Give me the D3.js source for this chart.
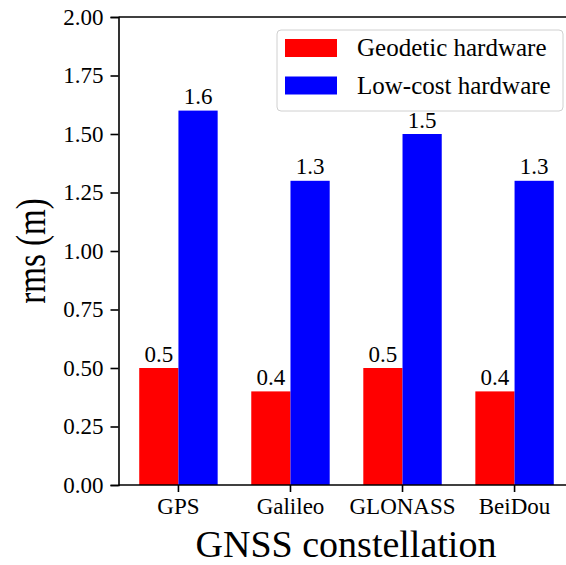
<!DOCTYPE html>
<html>
<head>
<meta charset="utf-8">
<script src="https://cdn.jsdelivr.net/npm/d3@7"></script>
<style>
  body { margin: 0; background: #fff; }
  text { font-family: "Liberation Serif", "Times New Roman", serif; fill: #000; }
</style>
</head>
<body>
<div class="graph"></div>
<script>
// Data
var constellations = ["GPS", "Galileo", "GLONASS", "BeiDou"];
var geodetic = [0.5, 0.4, 0.5, 0.4];
var lowCost = [1.6, 1.3, 1.5, 1.3];
var seriesNames = ["Geodetic hardware", "Low-cost hardware"];
var seriesColors = ["#ff0000", "#0000ff"];
var yTicks = [0, 0.25, 0.5, 0.75, 1.0, 1.25, 1.5, 1.75, 2.0];

// Configuration
var W = 566, H = 565;
var plotLeft = 118.5, plotTop = 17, plotBottom = 485, plotRight = 574.5;
var barFrac = 0.35;

var svg = d3.select(".graph").append("svg")
    .attr("width", W)
    .attr("height", H);

// Scales
var x = d3.scaleBand()
    .domain(constellations)
    .range([plotLeft, plotRight])
    .paddingInner(0)
    .paddingOuter(0.035);
var y = d3.scaleLinear()
    .domain([0, 2])
    .range([plotBottom, plotTop]);

var step = x.step();
var bw = step * barFrac;

var rows = constellations.map(function(c, i) {
  return {name: c, vals: [geodetic[i], lowCost[i]]};
});

// Bars
var groups = svg.selectAll(".grp")
    .data(rows)
    .enter().append("g")
    .attr("class", "grp");

groups.selectAll("rect")
    .data(function(d) { return d.vals.map(function(v, k) { return {name: d.name, v: v, k: k}; }); })
    .enter().append("rect")
    .attr("x", function(d) { return x(d.name) + step / 2 + (d.k - 1) * bw; })
    .attr("y", function(d) { return y(d.v); })
    .attr("width", bw)
    .attr("height", function(d) { return y(0) - y(d.v); })
    .style("fill", function(d) { return seriesColors[d.k]; });

// Value labels
groups.selectAll(".val")
    .data(function(d) { return d.vals.map(function(v, k) { return {name: d.name, v: v, k: k}; }); })
    .enter().append("text")
    .attr("class", "val")
    .attr("x", function(d) { return x(d.name) + step / 2 + (d.k - 0.5) * bw; })
    .attr("y", function(d) { return y(d.v) - 6.5; })
    .attr("text-anchor", "middle")
    .style("font-size", "23px")
    .text(function(d) { return d3.format(".1f")(d.v); });

// Axes
var yAxis = svg.append("g")
    .attr("transform", "translate(" + plotLeft + ",0)")
    .call(d3.axisLeft(y).tickValues(yTicks).tickFormat(d3.format(".2f")).tickSizeOuter(0).tickSize(8).tickPadding(7));
var xAxis = svg.append("g")
    .attr("transform", "translate(0," + plotBottom + ")")
    .call(d3.axisBottom(x).tickSizeOuter(0).tickSize(7).tickPadding(6));

[yAxis, xAxis].forEach(function(a) {
  a.selectAll("path, line").attr("stroke", "#000").attr("stroke-width", 1.6);
  a.selectAll("text").style("font-size", "23px").style("font-family", "Liberation Serif, serif").attr("fill", "#000");
});
xAxis.select(".domain").attr("d", "M" + plotLeft + ",0H" + W);

// Top spine
svg.append("line")
    .attr("x1", plotLeft).attr("x2", W)
    .attr("y1", plotTop).attr("y2", plotTop)
    .attr("stroke", "#000").attr("stroke-width", 1.6);

// Axis titles
svg.append("text")
    .attr("x", (plotLeft + plotRight) / 2 - 0.5)
    .attr("y", 557)
    .attr("text-anchor", "middle")
    .style("font-size", "38px")
    .text("GNSS constellation");

svg.append("text")
    .attr("transform", "translate(44.5,251) scale(1.3,1) rotate(-90)")
    .attr("text-anchor", "middle")
    .style("font-size", "33px")
    .text("rms (m)");

// Legend
var legend = svg.append("g");
legend.append("rect")
    .attr("x", 277).attr("y", 30)
    .attr("width", 286).attr("height", 81)
    .attr("rx", 4)
    .attr("fill", "#fff").attr("fill-opacity", 0.85)
    .attr("stroke", "#d0d0d0").attr("stroke-width", 1);

var li = legend.selectAll(".li")
    .data(seriesNames)
    .enter().append("g")
    .attr("transform", function(d, i) { return "translate(285," + (39 + i * 37.5) + ")"; });
li.append("rect")
    .attr("width", 52).attr("height", 18)
    .style("fill", function(d, i) { return seriesColors[i]; });
li.append("text")
    .attr("x", 72).attr("y", 17)
    .style("font-size", "25px")
    .text(function(d) { return d; });
</script>
</body>
</html>
